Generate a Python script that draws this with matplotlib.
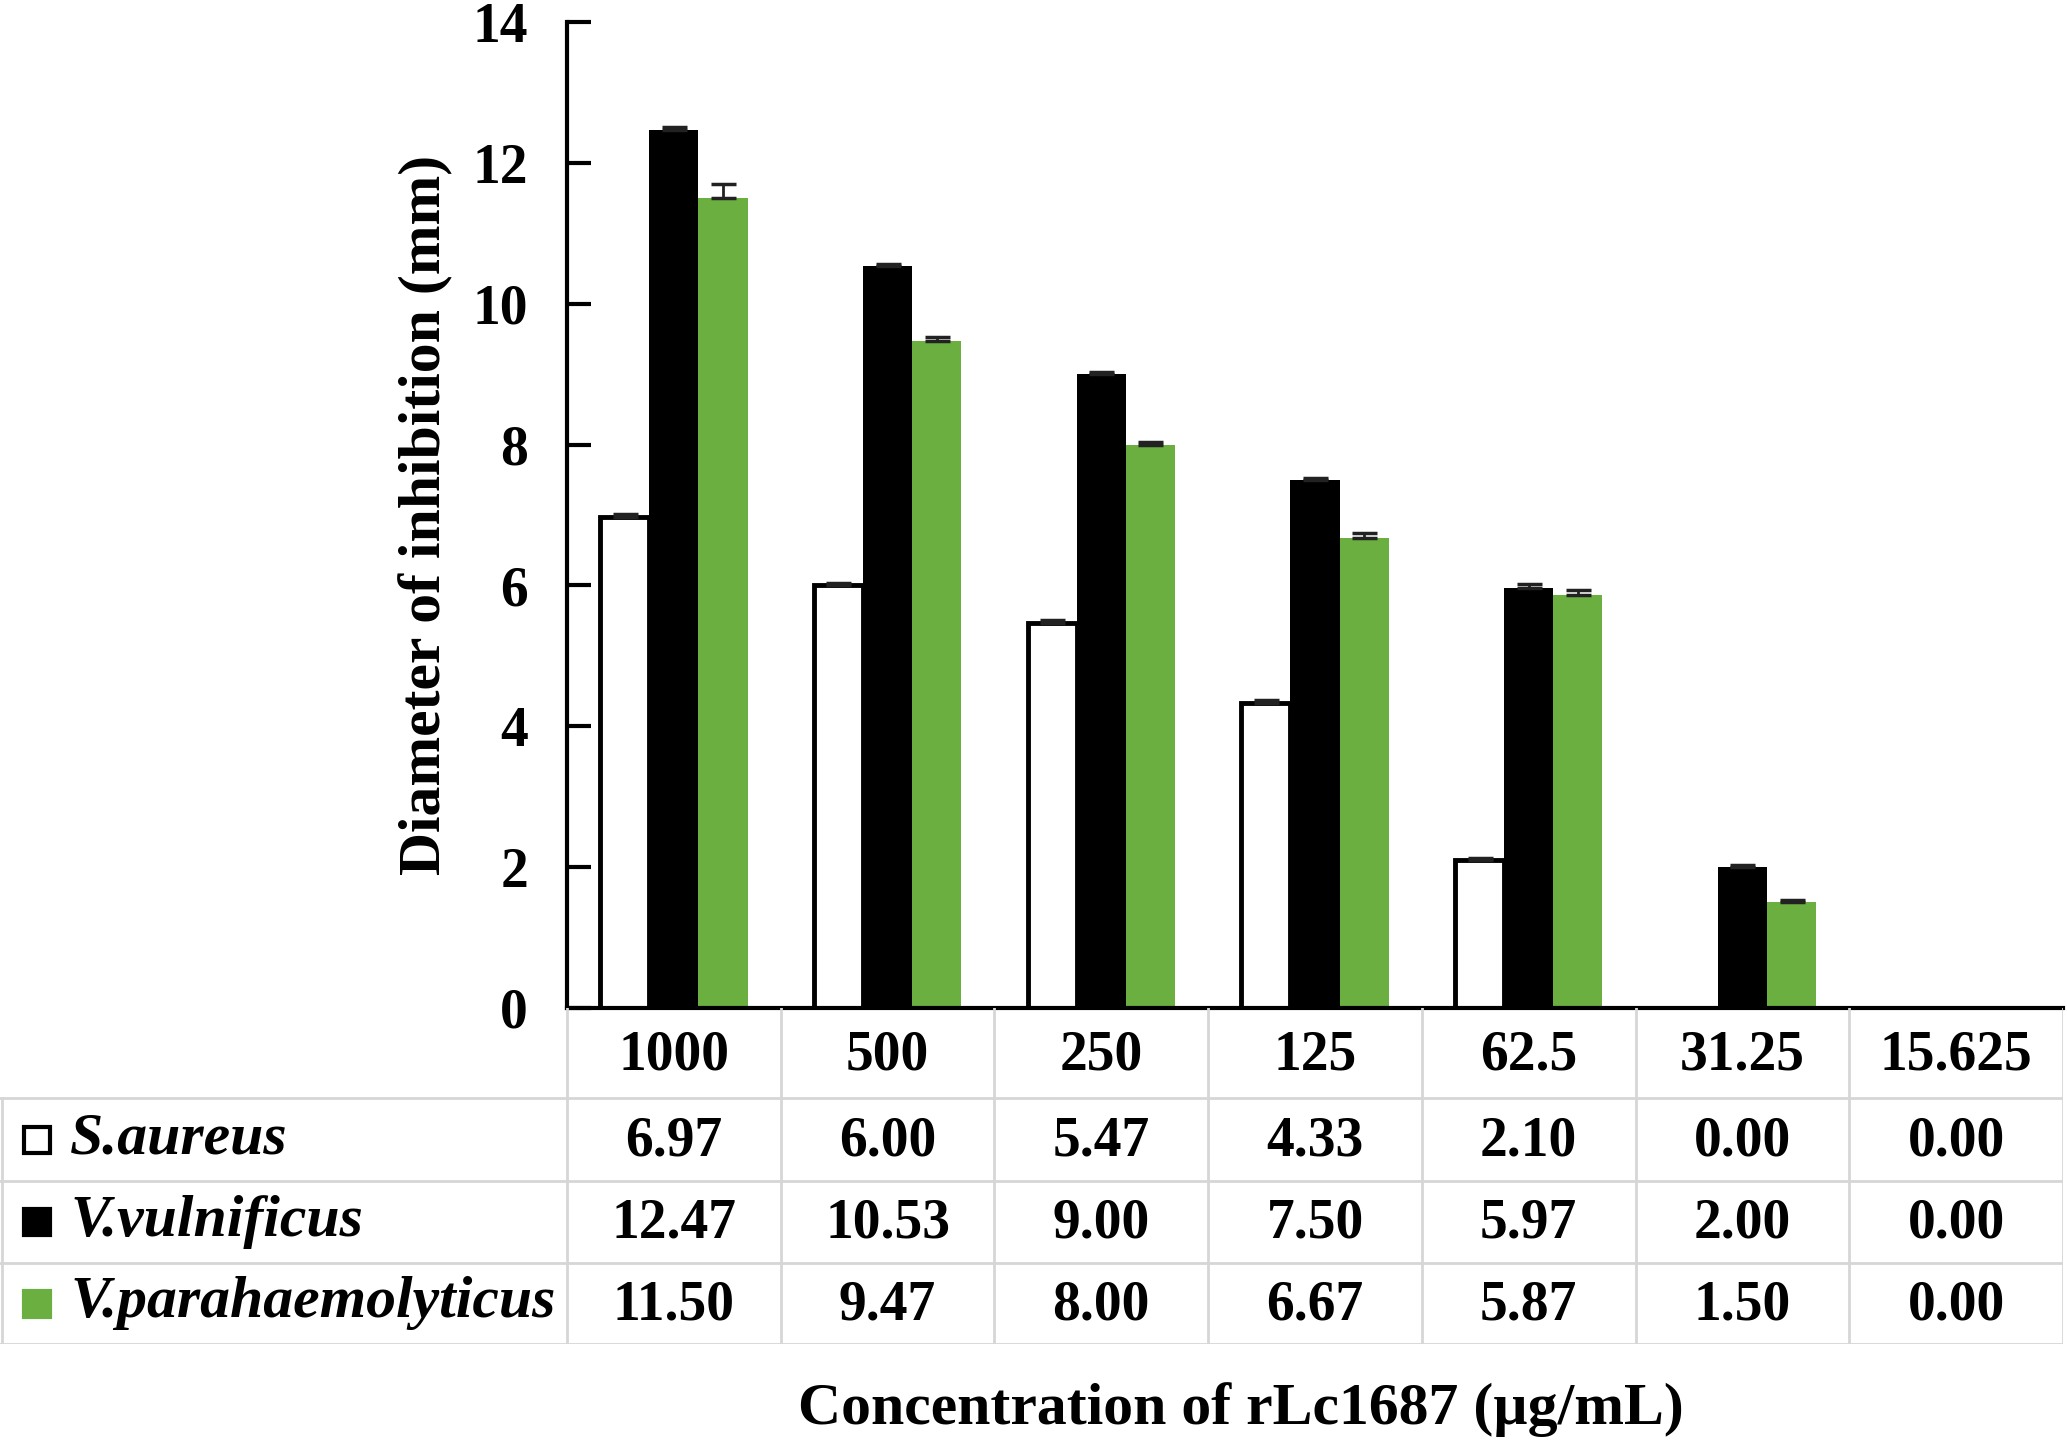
import matplotlib
matplotlib.use('Agg')
from matplotlib import pyplot as plt
import numpy as np

concentrations = ['1000', '500', '250', '125', '62.5', '31.25', '15.625']
series_names = ['S.aureus', 'V.vulnificus', 'V.parahaemolyticus']
s_aureus = [6.97, 6.00, 5.47, 4.33, 2.10, 0.00, 0.00]
v_vulnificus = [12.47, 10.53, 9.00, 7.50, 5.97, 2.00, 0.00]
v_para = [11.50, 9.47, 8.00, 6.67, 5.87, 1.50, 0.00]
s_aureus_err = [0.05, 0.03, 0.04, 0.05, 0.03, 0.00, 0.00]
v_vulnificus_err = [0.04, 0.04, 0.03, 0.03, 0.05, 0.03, 0.00]
v_para_err = [0.20, 0.06, 0.03, 0.07, 0.07, 0.03, 0.00]

green = '#6aaf3f'
plt.rcParams['font.family'] = ['Liberation Serif', 'DejaVu Serif']
plt.rcParams['font.weight'] = 'bold'
num_size = 40
label_size = 43

W, H = 2067, 1446
fig = plt.figure(figsize=(W / 100, H / 100), dpi=100)

# main bar axes
x0, x1 = 567, 2063
ytop, y0 = 22, 1008
ax = fig.add_axes([x0 / W, 1 - y0 / H, (x1 - x0) / W, (y0 - ytop) / H])
n = len(concentrations)
x = np.arange(n) + 0.5
w = 0.23
series = [s_aureus, v_vulnificus, v_para]
errs = [s_aureus_err, v_vulnificus_err, v_para_err]
styles = [dict(facecolor='white', edgecolor='black', linewidth=3.5),
          dict(facecolor='black', edgecolor='black', linewidth=0),
          dict(facecolor=green, edgecolor=green, linewidth=0)]
for i, (vals, err, st) in enumerate(zip(series, errs, styles)):
    pos = x + (i - 1) * w
    vals = np.array(vals)
    mask = vals > 0
    ax.bar(pos[mask], vals[mask], w, **st, zorder=2)
    ax.errorbar(pos[mask], vals[mask], yerr=[np.zeros(mask.sum()), np.array(err)[mask]],
                fmt='none', ecolor='#222222', elinewidth=2, capsize=9, capthick=2.5, zorder=3)

ax.set_xlim(0, n)
ax.set_ylim(0, 14)
ax.set_yticks(range(0, 15, 2))
ax.tick_params(axis='y', direction='in', length=17, width=3, labelsize=num_size, pad=28)
ax.tick_params(axis='x', bottom=False, labelbottom=False)
for lab in ax.get_yticklabels():
    lab.set_fontweight('bold')
ax.spines['top'].set_visible(False)
ax.spines['right'].set_visible(False)
ax.spines['left'].set_linewidth(3)
ax.spines['bottom'].set_linewidth(3)
ax.set_ylabel('Diameter of inhibition (mm)', fontsize=label_size, fontweight='bold', labelpad=14)

# table below the axes
tab_bottom = 1344
tab = fig.add_axes([0, 1 - tab_bottom / H, x1 / W, (tab_bottom - y0) / H])
col_w = (x1 - x0) / n
left_units = -x0 / col_w
tab.set_xlim(left_units, n)
row_edges = [1008, 1098, 1181, 1263, 1344]
tab.set_ylim(tab_bottom, y0)
tab.axis('off')
grid = dict(color='#d6d6d6', lw=2)
for yy in row_edges[1:]:
    tab.plot([left_units, n], [yy, yy], **grid)
tab.plot([0, 0], [row_edges[0], row_edges[-1]], **grid)
tab.plot([left_units + 0.01, left_units + 0.01], [row_edges[1], row_edges[-1]], **grid)
for k in range(1, n + 1):
    tab.plot([k, k], [row_edges[0], row_edges[-1]], **grid)

for k, c in enumerate(concentrations):
    tab.text(k + 0.5, (row_edges[0] + row_edges[1]) / 2 + 2, c, ha='center', va='center',
             fontsize=num_size, fontweight='bold')
markers = [dict(mfc='white', mec='black'), dict(mfc='black', mec='black'), dict(mfc=green, mec=green)]
for r, (name, vals, mk) in enumerate(zip(series_names, series, markers)):
    yc = (row_edges[r + 1] + row_edges[r + 2]) / 2
    for k, v in enumerate(vals):
        tab.text(k + 0.5, yc + 2, '%.2f' % v, ha='center', va='center', fontsize=num_size,
                 fontweight='bold')
    tab.plot([left_units + 37 / col_w], [yc], 's', ms=19, mew=3, **mk)
    tab.text(left_units + 70 / col_w, yc, name, ha='left', va='center', fontsize=label_size,
             fontweight='bold', fontstyle='italic')

fig.text(1241 / W, 1 - 1410 / H, 'Concentration of rLc1687 (\u00b5g/mL)', ha='center', va='center',
         fontsize=label_size, fontweight='bold')

fig.savefig('out.png', dpi=100)
